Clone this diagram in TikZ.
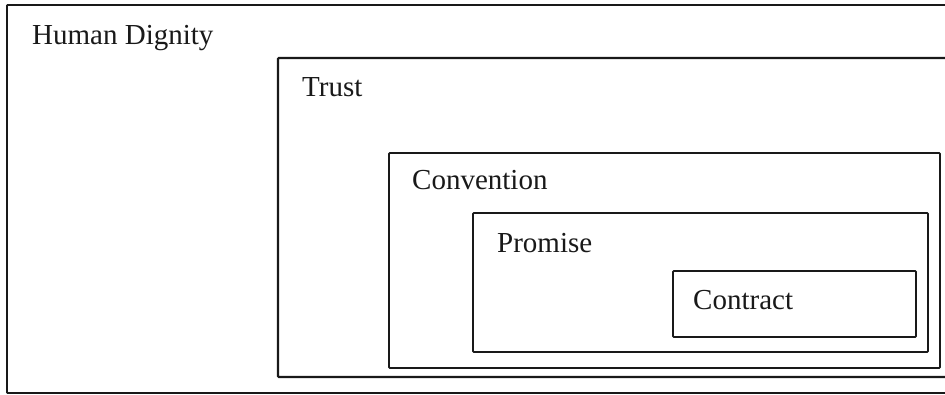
\documentclass[tikz,border=0pt]{standalone}
\usepackage{fontspec}
\setmainfont{Liberation Serif}
\newfontfamily\lblfont{Liberation Serif}
\begin{document}
\begin{tikzpicture}[x=1pt,y=-1pt,
  box/.style={draw=black!90,line width=1.8pt,rounded corners=0.8pt},
  lbl/.style={anchor=base west,inner sep=0pt,font=\lblfont\fontsize{29}{34}\selectfont,text=black!90}]
\useasboundingbox (0,0) rectangle (945,395);
\clip (0,0) rectangle (945,395);
\fill[white] (0,0) rectangle (945,395);
% boxes
\draw[box,line width=1.9pt] (7,5) rectangle (975,393);
\draw[box,line width=2.1pt] (278,58) rectangle (960,377);
\draw[box] (389,153) rectangle (940,368);
\draw[box] (473,213) rectangle (928,352);
\draw[box] (673,271) rectangle (916,337);
% labels
\node[lbl] (dignity) at (32,45) {Human Dignity};
\node[lbl] (trust) at (302,97) {Trust};
\node[lbl] (convention) at (412,190) {Convention};
\node[lbl] (promise) at (497,253) {Promise};
\node[lbl] (contract) at (693,309) {Contract};
\end{tikzpicture}
\end{document}
